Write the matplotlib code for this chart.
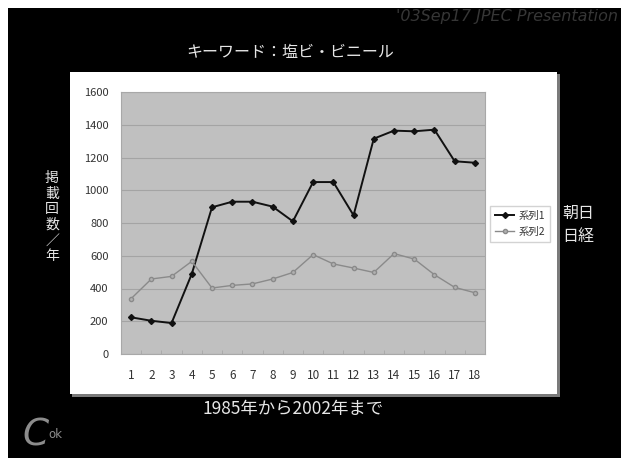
import matplotlib.pyplot as plt
from matplotlib.patches import Rectangle
from matplotlib.ticker import MultipleLocator

plt.rcParams["font.family"] = ["Noto Sans CJK JP", "DejaVu Sans"]

# 1985-2002, numbered 1..18
years = list(range(1, 19))
asahi = [224, 203, 189, 489, 896, 930, 930, 900, 810, 1050,
         1050, 847, 1315, 1364, 1360, 1370, 1177, 1168]
nikkei = [338, 458, 474, 566, 403, 419, 428, 458, 498, 607,
          550, 525, 498, 613, 580, 484, 407, 374]
series_names = ["系列1", "系列2"]
paper_names = ["朝日", "日経"]

W, H = 621, 458
fig = plt.figure(figsize=(W / 100, H / 100), dpi=100, facecolor="white")


def fx(px):
    return px / W


def fy(py):
    return 1 - py / H


# slide background and white chart panel with a soft shadow
fig.patches.append(Rectangle((fx(8), 0), 1 - fx(8), fy(8), transform=fig.transFigure,
                             facecolor="black", edgecolor="none", zorder=0))
fig.patches.append(Rectangle((fx(72), fy(397)), fx(488), (397 - 74) / H,
                             transform=fig.transFigure, facecolor="#7a7a7a",
                             edgecolor="none", zorder=1))
fig.patches.append(Rectangle((fx(70), fy(394)), fx(487), (394 - 72) / H,
                             transform=fig.transFigure, facecolor="white",
                             edgecolor="none", zorder=2))

ax = fig.add_axes([fx(121), fy(354), fx(364), (354 - 92) / H])
ax.set_zorder(3)
ax.set_facecolor("#c0c0c0")

ax.plot(years, asahi, color="#111111", lw=1.4, marker="D", ms=3,
        mfc="#111111", mec="#111111", label=series_names[0])
ax.plot(years, nikkei, color="#8a8a8a", lw=1.0, marker="o", ms=3,
        mfc="#b0b0b0", mec="#8a8a8a", label=series_names[1])

ax.set_xlim(0.5, 18.5)
ax.set_ylim(0, 1600)
ax.yaxis.set_major_locator(MultipleLocator(200))
ax.set_xticks(years)
ax.set_xticks([y + 0.5 for y in years[:-1]], minor=True)
ax.grid(axis="y", color="#a4a4a4", lw=0.8)
ax.set_axisbelow(True)
for s in ax.spines.values():
    s.set_color("#a8a8a8")
    s.set_linewidth(0.8)
ax.tick_params(axis="y", length=0, pad=9, labelsize=8, labelcolor="#333333")
ax.tick_params(axis="x", which="major", length=0, pad=11, labelsize=8.5,
               labelcolor="#333333")
ax.tick_params(axis="x", which="minor", direction="in", length=3,
               color="#a8a8a8")

leg = ax.legend(loc="center left", bbox_to_anchor=(fx(490), fy(224)),
                bbox_transform=fig.transFigure, fontsize=7.5, frameon=True,
                fancybox=False, edgecolor="#c8c8c8", handlelength=1.9,
                handletextpad=0.4, borderpad=0.45, labelspacing=0.55,
                borderaxespad=0)
for t in leg.get_texts():
    t.set_color("#333333")

txt = "#e6e6e6"
fig.text(fx(290), fy(52), "キーワード：塩ビ・ビニール", color=txt, fontsize=11.5,
         ha="center", va="center")
fig.text(fx(293), fy(409), "1985年から2002年まで", color=txt, fontsize=12.5,
         ha="center", va="center")
fig.text(fx(52), fy(217), "\n".join("掲載回数／年"), color=txt, fontsize=10,
         ha="center", va="center", linespacing=1.15)
fig.text(fx(562), fy(213), paper_names[0], color=txt, fontsize=11.5,
         ha="left", va="center")
fig.text(fx(562), fy(236), paper_names[1], color=txt, fontsize=11.5,
         ha="left", va="center")
fig.text(fx(618), fy(17), "'03Sep17 JPEC Presentation", color="#363636",
         fontsize=11.5, style="italic", ha="right", va="center",
         family="DejaVu Sans")
# small logo mark in the corner
fig.text(fx(22), fy(436), "C", color="#8c8c8c", fontsize=27, style="italic",
         ha="left", va="center", family="DejaVu Sans")
fig.text(fx(48), fy(434), "ok", color="#8c8c8c", fontsize=8.5,
         ha="left", va="center", family="DejaVu Sans")

fig.savefig("out.png", dpi=100, facecolor="white")
